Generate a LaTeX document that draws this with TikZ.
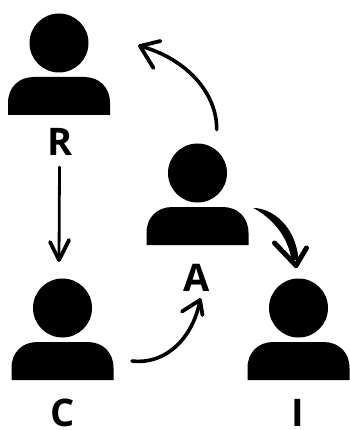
\documentclass[tikz,border=0pt]{standalone}
\usepackage{fontspec}
\setmainfont{Open Sans}
\usetikzlibrary{arrows.meta}
\tikzset{
  px/.style={x=1pt,y=-1pt},
  lab/.style={font=\bfseries\fontsize{38}{38}\selectfont,text=black,inner sep=0pt,anchor=center},
  arr/.style={draw=black,line width=3.6pt,line cap=round},
  thinarr/.style={draw=black,line width=2.8pt,line cap=round},
  barb/.style={draw=black,line width=3.8pt,line cap=round,line join=round},
  boldbarb/.style={draw=black,line width=5pt,line cap=round,line join=round},
  person/.pic={
    \fill[black] (0,0) circle (29.5);
    \fill[black] (-51,72) -- (-51,60) .. controls (-51,44) and (-40,34) .. (-25,34) -- (25,34) .. controls (40,34) and (51,44) .. (51,60) -- (51,72) -- cycle;
  }
}
\begin{document}
\begin{tikzpicture}[px]
\useasboundingbox (0,0) rectangle (349,430);
\fill[white] (0,0) rectangle (349,430);
\pic at (59,43) {person};
\pic at (197.5,173) {person};
\pic at (62.5,308) {person};
\pic at (298.5,308) {person};
\node[lab] (r) at (60,142) {R};
\node[lab] (a) at (197,277.5) {A};
\node[lab] (c) at (62.5,413) {C};
\node[lab] (i) at (298,413) {I};
\coordinate (rs) at (59.5,167);
\coordinate (re) at (59,260);
\coordinate (as) at (216.7,129.5);
\coordinate (ae) at (140,46);
\coordinate (cs) at (132,361);
\coordinate (ce) at (200,300);
\coordinate (bs) at (253.3,208);
\coordinate (be) at (296,265.5);
\draw[thinarr] (rs) -- (re);
\draw[barb] (re) -- (50,242);
\draw[barb] (re) -- (69,240);
\draw[arr] (as) .. controls (217,92) and (185,58) .. (ae);
\draw[barb] (ae) -- (160.5,41);
\draw[barb] (ae) -- (153.5,68);
\draw[arr] (cs) .. controls (168,365) and (194,335) .. (ce);
\draw[barb] (ce) -- (182,311.5);
\draw[barb] (ce) -- (202.5,315);
\fill[black] (bs) .. controls (272,208) and (296,226) .. (298.5,260) -- (291.5,260) .. controls (288,236) and (272,218) .. (bs) -- cycle;
\draw[boldbarb] (be) -- (274.5,243);
\draw[boldbarb] (be) -- (306.5,248);
\end{tikzpicture}
\end{document}
